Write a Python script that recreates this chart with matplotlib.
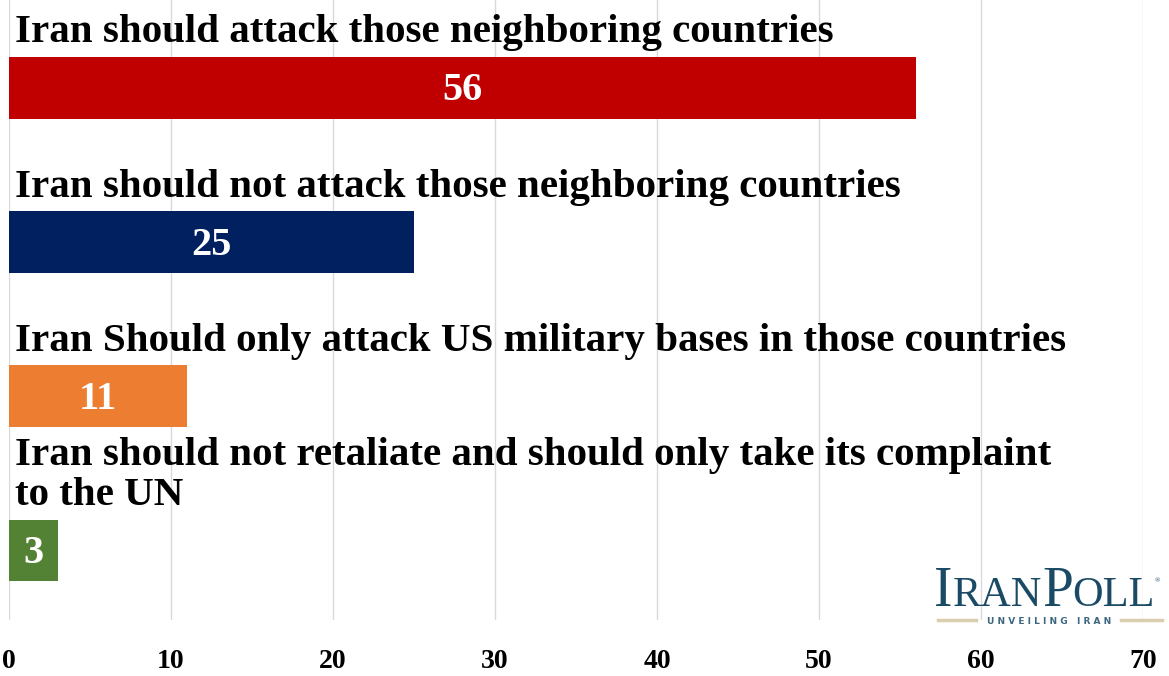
import matplotlib
matplotlib.use("Agg")
import matplotlib.pyplot as plt

plt.rcParams['font.family'] = ['Liberation Serif', 'DejaVu Serif']

labels = [
    "Iran should attack those neighboring countries",
    "Iran should not attack those neighboring countries",
    "Iran Should only attack US military bases in those countries",
    "Iran should not retaliate and should only take its complaint\nto the UN",
]
values = [56, 25, 11, 3]
colors = ["#C00000", "#002060", "#ED7D31", "#548235"]
ticks = [0, 10, 20, 30, 40, 50, 60, 70]

fig = plt.figure(figsize=(11.69, 6.76), dpi=100)
ax = fig.add_axes([0.0077, 0.083, 0.970, 0.917])

pos = list(range(len(values)))
bar_h = 0.40
bars = ax.barh(pos, values, height=bar_h, color=colors, zorder=2)

for p, v, lab in zip(pos, values, labels):
    ax.text(v / 2, p + 0.02, str(v), ha='center', va='center', color='white',
            fontsize=29, fontweight='bold', zorder=3)
    ax.annotate(lab, xy=(0, p - bar_h / 2), xytext=(4, 4),
                textcoords='offset points', ha='left', va='bottom',
                fontsize=29.5, fontweight='bold', color='black',
                linespacing=1.1, annotation_clip=False)

ax.set_xlim(0, 70)
ax.set_ylim(3.45, -0.57)
ax.set_xticks(ticks)
ax.set_xticklabels([str(t) for t in ticks], fontsize=20, fontweight='bold')
ax.tick_params(axis='x', length=0, pad=21)
ax.set_yticks([])
ax.grid(axis='x', color='#D9D9D9', linewidth=1, zorder=0)
for s in ax.spines.values():
    s.set_visible(False)

# logo in the lower right corner
fig.canvas.draw()
r = fig.canvas.get_renderer()
navy = "#1B4A65"
x = 934
base = 676 - 606
parts = [("I", 40), ("RAN", 30.5), ("P", 40), ("OLL", 30.5)]
for txt, sz in parts:
    t = fig.text(x / 1169, base / 676, txt, fontsize=sz, color=navy,
                 fontfamily='Liberation Serif', va='baseline', ha='left')
    bb = t.get_window_extent(renderer=r)
    x = bb.x1
fig.text(x / 1169, (base + 24) / 676, "®", fontsize=5, color=navy,
         va='baseline', ha='left')
fig.text(1049 / 1169, (676 - 621) / 676, "U N V E I L I N G   I R A N",
         fontsize=6.5, color="#3D6680", fontfamily='DejaVu Sans',
         fontweight='bold', ha='center', va='center')
fig.add_artist(plt.Line2D([938 / 1169, 976 / 1169], [(676 - 620) / 676] * 2,
                          color="#D9CFAE", linewidth=2.5))
fig.add_artist(plt.Line2D([1121 / 1169, 1162 / 1169], [(676 - 620) / 676] * 2,
                          color="#D9CFAE", linewidth=2.5))

fig.savefig("out.png", dpi=100)
